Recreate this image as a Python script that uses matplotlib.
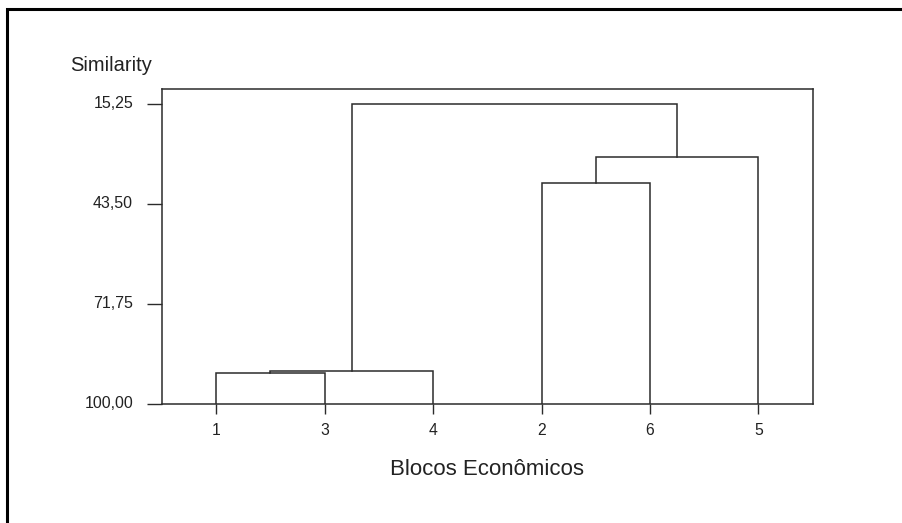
import matplotlib
matplotlib.use("Agg")
import matplotlib.pyplot as plt
from matplotlib.lines import Line2D
from matplotlib.transforms import ScaledTranslation

plt.rcParams['font.family'] = ['Liberation Sans', 'DejaVu Sans']

# leaf labels (cluster ids 0..5) and the order they appear on the x axis
labels = ['1', '2', '3', '4', '5', '6']
leaf_order = [0, 2, 3, 1, 5, 4]
# merges: (left cluster, right cluster, similarity level); new ids start at 6
merges = [(0, 2, 91.3), (6, 3, 90.7), (1, 5, 37.7), (8, 4, 30.1), (7, 9, 15.25)]
ytick_vals = [15.25, 43.50, 71.75, 100.00]
ytick_labels = ['15,25', '43,50', '71,75', '100,00']

lc = '#2b2b2b'

fig = plt.figure(figsize=(9.03, 5.23), dpi=100)
ax = fig.add_axes([0.1794, 0.2275, 0.7206, 0.6018])

pos = {}
height = {}
for i, leaf in enumerate(leaf_order):
    pos[leaf] = i + 1
    height[leaf] = 100.0

nid = len(labels)
for a, b, s in merges:
    ax.plot([pos[a], pos[a], pos[b], pos[b]], [height[a], s, s, height[b]],
            color=lc, lw=1.1, solid_joinstyle='miter')
    pos[nid] = (pos[a] + pos[b]) / 2
    height[nid] = s
    nid += 1

ax.set_xlim(0.5, 6.5)
ax.set_ylim(100, 11.1)
ax.set_xticks(range(1, len(leaf_order) + 1))
ax.set_xticklabels([labels[i] for i in leaf_order])
ax.set_yticks(ytick_vals)
ax.set_yticklabels(ytick_labels)
ax.tick_params(axis='x', direction='out', length=7.2, width=1.0, color=lc,
               pad=6.5, labelsize=11.3, labelcolor='#222222')
ax.tick_params(axis='y', direction='out', length=10.8, width=1.0, color=lc,
               pad=10, labelsize=11.5, labelcolor='#222222')
for sp in ax.spines.values():
    sp.set_color(lc)
    sp.set_linewidth(1.1)

# y tick labels sit slightly above their ticks in the original
up = ScaledTranslation(0, 2 / 100, fig.dpi_scale_trans)
for lbl in ax.get_yticklabels():
    lbl.set_transform(lbl.get_transform() + up)

fig.text(70 / 903, 1 - 70.7 / 523, 'Similarity', fontsize=14.5,
         color='#222222', ha='left', va='baseline')
fig.text(487 / 903, 1 - 475 / 523, 'Blocos Econômicos', fontsize=16,
         color='#222222', ha='center', va='baseline')

# outer frame (left and top edges only)
fig.add_artist(Line2D([7 / 903, 7 / 903, 1], [0, 1 - 9 / 523, 1 - 9 / 523],
                      color='black', lw=2.2, transform=fig.transFigure,
                      solid_joinstyle='miter'))

fig.savefig('out.png', dpi=100)
